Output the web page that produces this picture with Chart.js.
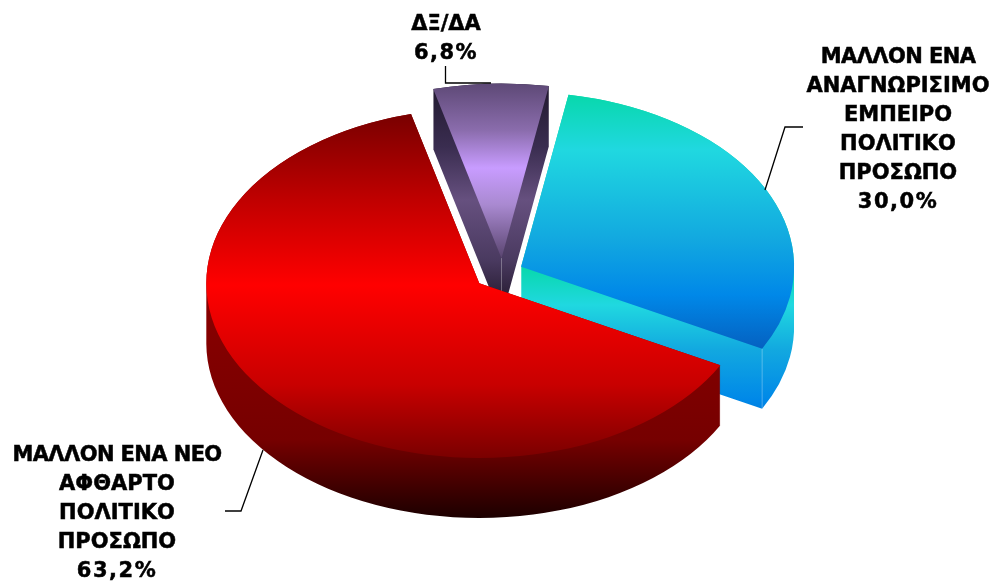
<!DOCTYPE html>
<html>
<head>
<meta charset="utf-8">
<style>
  html, body { margin: 0; padding: 0; background: #ffffff; }
  #wrap { width: 995px; height: 581px; }
</style>
<script src="https://cdn.jsdelivr.net/npm/chart.js@4/dist/chart.umd.min.js"></script>
</head>
<body>
<div id="wrap"><canvas id="chart-pie"></canvas></div>
<script>
// Order starts at the red slice's leading edge so the rotation below lines up
const categories = ['ΜΑΛΛΟΝ ΕΝΑ ΝΕΟ ΑΦΘΑΡΤΟ ΠΟΛΙΤΙΚΟ ΠΡΟΣΩΠΟ', 'ΔΞ/ΔΑ', 'ΜΑΛΛΟΝ ΕΝΑ ΑΝΑΓΝΩΡΙΣΙΜΟ ΕΜΠΕΙΡΟ ΠΟΛΙΤΙΚΟ ΠΡΟΣΩΠΟ'];
const shares = [63.2, 6.8, 30.0];
const labelLines = [
    ['ΜΑΛΛΟΝ ΕΝΑ ΝΕΟ', 'ΑΦΘΑΡΤΟ', 'ΠΟΛΙΤΙΚΟ', 'ΠΡΟΣΩΠΟ', '63,2%'],
    ['ΔΞ/ΔΑ', '6,8%'],
    ['ΜΑΛΛΟΝ ΕΝΑ', 'ΑΝΑΓΝΩΡΙΣΙΜΟ', 'ΕΜΠΕΙΡΟ', 'ΠΟΛΙΤΙΚΟ', 'ΠΡΟΣΩΠΟ', '30,0%'],
];

// Look of the fake 3D pie
const SQUASH = 0.64;
const DEPTH = 60;
const PIE_X = 499.5;
const PIE_Y = 273.5;
const explode = [[-20.2, 15.2], [2, -24], [21.6, -10.5]]; // before squash
const drawOrder = [1, 2, 0]; // back to front

// [y on screen, colour]
const topStops = [
    [[113, '#780000'], [200, '#c00000'], [285, '#ff0000'], [385, '#c80000'], [460, '#780000']],
    [[85, '#5f4a78'], [130, '#8a6cac'], [168, '#c89cff'], [205, '#a989d0'], [258, '#5a4570']],
    [[95, '#08d8ac'], [150, '#20d8e0'], [240, '#12a8e0'], [295, '#0088e8'], [350, '#0560c0']],
];
const sideStops = [
    [[290, '#8a0000'], [440, '#760000'], [518, '#1c0000']],
    [[88, '#221a30'], [147, '#3a2d50'], [200, '#66507f'], [260, '#4a3a60'], [295, '#2c2038']],
    [[267, '#08d8ac'], [305, '#20d8e0'], [350, '#12a8e0'], [400, '#0088e8'], [410, '#0080e0']],
];

const labelPos = [[117, 461], [446, 30], [898, 63]];
const LINE_STEP = 29;
const leaders = [
    [[263, 450], [241, 511], [225, 511]],
    [[445.5, 66], [445.5, 83], [491, 83]],
    [[765, 190], [785, 127], [803, 127]],
];

function makeGradient(ctx, stops) {
    const y0 = stops[0][0];
    const y1 = stops[stops.length - 1][0];
    const grad = ctx.createLinearGradient(0, y0, 0, y1);
    stops.forEach(s => grad.addColorStop((s[0] - y0) / (y1 - y0), s[1]));
    return grad;
}

// Fills a slice swept downward by depth, in screen space so the gradient stays put
function fillSlice(ctx, arc, idx, depth, stops) {
    const p = arc.getProps(['startAngle', 'endAngle', 'outerRadius']);

    ctx.save();
    ctx.beginPath();
    for (let d = depth; d >= 0; d--) {
        ctx.setTransform(1, 0, 0, SQUASH, PIE_X + explode[idx][0], PIE_Y + explode[idx][1] * SQUASH + d);
        ctx.moveTo(0, 0);
        ctx.arc(0, 0, p.outerRadius, p.startAngle, p.endAngle);
        ctx.closePath();
    }
    ctx.setTransform(1, 0, 0, 1, 0, 0);
    ctx.fillStyle = makeGradient(ctx, stops);
    ctx.fill();
    ctx.restore();
}

// Faint vertical edge where two side faces of a slice meet
function drawSeam(ctx, x, y) {
    ctx.save();
    ctx.strokeStyle = 'rgba(255, 255, 255, 0.3)';
    ctx.lineWidth = 1;
    ctx.beginPath();
    ctx.moveTo(x, y);
    ctx.lineTo(x, y + DEPTH);
    ctx.stroke();
    ctx.restore();
}

// DejaVu runs wider than the reference on the Λ lines and narrower on the percents
function lineSpacing(line) {
    if (line.endsWith('%')) {
        return '1.5px';
    }
    return line.startsWith('ΜΑΛΛΟΝ') ? '-0.6px' : '0px';
}

const pie3d = {
    id: 'pie3d',
    beforeDatasetsDraw(chart) {
        const ctx = chart.ctx;
        const arcs = chart.getDatasetMeta(0).data;
        drawOrder.forEach(i => {
            fillSlice(ctx, arcs[i], i, DEPTH, sideStops[i]);
            fillSlice(ctx, arcs[i], i, 0, topStops[i]);
            const ox = PIE_X + explode[i][0];
            const oy = PIE_Y + explode[i][1] * SQUASH;
            if (i === 1) {
                drawSeam(ctx, ox, oy);
            }
            if (i === 2) {
                const p = arcs[i].getProps(['endAngle', 'outerRadius']);
                drawSeam(ctx, ox + Math.cos(p.endAngle) * p.outerRadius, oy + Math.sin(p.endAngle) * p.outerRadius * SQUASH);
            }
        });
        return false;
    },
    afterDraw(chart) {
        const ctx = chart.ctx;
        ctx.save();
        ctx.strokeStyle = '#000000';
        ctx.lineWidth = 1.3;
        leaders.forEach(pts => {
            ctx.beginPath();
            pts.forEach((pt, n) => n ? ctx.lineTo(pt[0], pt[1]) : ctx.moveTo(pt[0], pt[1]));
            ctx.stroke();
        });
        ctx.fillStyle = '#000000';
        ctx.lineWidth = 0.5;
        ctx.font = 'bold 21px "DejaVu Sans"';
        ctx.textAlign = 'center';
        ctx.textBaseline = 'alphabetic';
        labelLines.forEach((lines, i) => {
            lines.forEach((line, n) => {
                ctx.letterSpacing = lineSpacing(line);
                const y = labelPos[i][1] + n * LINE_STEP;
                ctx.fillText(line, labelPos[i][0], y);
                ctx.strokeText(line, labelPos[i][0], y);
            });
        });
        ctx.restore();
    },
};

new Chart(document.getElementById('chart-pie'), {
    type: 'pie',
    data: {
        labels: categories,
        datasets: [{
            data: shares,
            backgroundColor: ['#ff0000', '#c89cff', '#20d8e0'],
            borderWidth: 0,
        }],
    },
    options: {
        responsive: true,
        maintainAspectRatio: false,
        animation: false,
        rotation: 118,
        radius: 273,
        plugins: {
            legend: { display: false },
            tooltip: { enabled: false },
        },
    },
    plugins: [pie3d],
});
</script>
</body>
</html>
